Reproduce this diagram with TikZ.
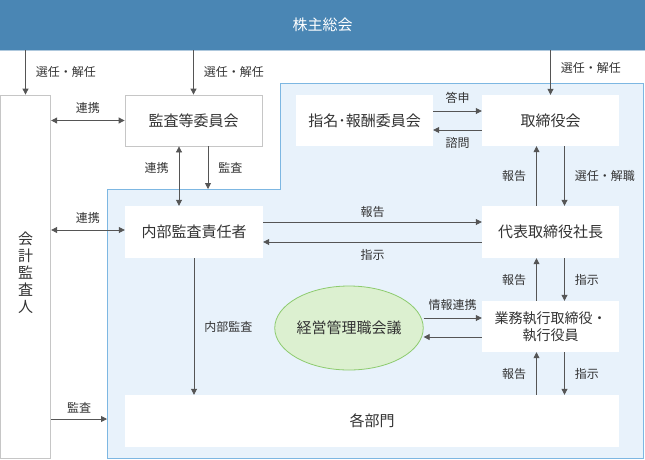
\documentclass[tikz,border=0pt]{standalone}
\usepackage{fontspec}
\setmainfont{Noto Sans CJK JP}
\usetikzlibrary{arrows.meta}
\usetikzlibrary{shapes.geometric}
\definecolor{banner}{HTML}{4A86B4}
\definecolor{zone}{HTML}{E8F2FB}
\definecolor{zoneline}{HTML}{7DB7E2}
\definecolor{ink}{HTML}{333333}
\definecolor{wire}{HTML}{555555}
\definecolor{meet}{HTML}{DCF0D0}
\definecolor{meetline}{HTML}{8DCB6E}

\tikzset{
  box/.style={fill=white, text=ink, inner sep=0pt, font=\fontsize{15}{17}\selectfont},
  arr/.style={draw=wire, line width=0.8pt, -{Triangle[length=6pt,width=6pt]}},
  darr/.style={arr, {Triangle[length=6pt,width=6pt]}-{Triangle[length=6pt,width=6pt]}},
  lbl/.style={text=ink, inner sep=2pt, font=\fontsize{12}{14}\selectfont},
}

\begin{document}
\begin{tikzpicture}[x=1pt,y=-1pt]
  \useasboundingbox (0,0) rectangle (645,459);
  % light blue executive area
  \fill[zone, draw=zoneline, line width=0.8pt] (107,189) -- (280,189) -- (280,83)
    -- (643,83) -- (643,458) -- (107,458) -- cycle;
  \coordinate (zoneW) at (107,419);
  \coordinate (zoneN) at (208,189);

  \node[fill=banner, text=white, inner sep=0pt, minimum width=645pt, minimum height=50pt,
    font=\fontsize{15}{17}\selectfont] (kabu) at (322.5,25) {株主総会};
  \draw[banner!45!white, line width=1pt] (kabu.south west) -- (kabu.south east);

  \node[box, draw=gray!45, line width=0.8pt, minimum width=50.5pt, minimum height=363pt,
    align=center] (kaik) at (25.5,276.5) {会\\計\\監\\査\\人\\[-9pt]};
  \node[box, draw=gray!45, line width=0.8pt, minimum width=137pt, minimum height=51pt]
    (kans) at (193.5,120.5) {監査等委員会};
  \node[box, minimum width=137pt, minimum height=51pt] (shim) at (364.5,120.5) {指名･報酬委員会};
  \node[box, minimum width=137pt, minimum height=51pt] (tori) at (550.5,120.5) {取締役会};
  \node[box, minimum width=138pt, minimum height=52pt] (naib) at (194,232) {内部監査責任者};
  \node[box, minimum width=137pt, minimum height=52pt] (daih) at (550.5,232) {代表取締役社長};
  \node[box, minimum width=137pt, minimum height=51pt, align=center,
    font=\fontsize{14}{17}\selectfont] (gyom) at (550.5,326.5) {業務執行取締役・\\執行役員};
  \node[ellipse, fill=meet, draw=meetline, line width=0.8pt, inner sep=0pt, text=ink,
    minimum width=130pt, minimum height=84pt, font=\fontsize{15}{17}\selectfont]
    (keie) at (349,328) {経営管理職会議};
  \node[box, minimum width=494pt, minimum height=52pt] (kaku) at (372,421) {各部門};

  \draw[arr] (kabu.south -| kaik.north) -- (kaik.north) node[lbl, midway, right=8pt] {選任・解任};
  \draw[arr] (kabu.south -| kans.north) -- (kans.north) node[lbl, midway, right=8pt] {選任・解任};
  \draw[arr] (kabu.south -| tori.north) -- (tori.north) node[lbl, pos=0.4, right=8pt] {選任・解任};

  \draw[darr] (kaik.east |- kans.west) -- (kans.west) node[lbl, midway, above=5pt] {連携};
  \draw[darr] ([yshift=2pt]kaik.east |- naib.west) -- ([yshift=2pt]naib.west)
    node[lbl, midway, above=4pt] {連携};
  \draw[arr] (kaik.east |- zoneW) -- (zoneW) node[lbl, midway, above=3pt] {監査};

  \draw[darr] ([xshift=-14.5pt]kans.south) -- ([xshift=-14.5pt]kans.south |- naib.north)
    node[lbl, pos=0.37, left=8pt] {連携};
  \draw[arr] (kans.south -| zoneN) -- (zoneN) node[lbl, midway, right=8pt] {監査};
  \draw[arr] (naib.south) -- (naib.south |- kaku.north) node[lbl, midway, right=8pt] {内部監査};

  \draw[arr] ([yshift=10pt]naib.east) -- ([yshift=10pt]daih.west) node[lbl, midway, above=2pt] {報告};
  \draw[arr] ([yshift=-10pt]daih.west) -- ([yshift=-10pt]naib.east) node[lbl, midway, below=5pt] {指示};

  \draw[arr] ([yshift=9.5pt]shim.east) -- ([yshift=9.5pt]tori.west) node[lbl, midway, above=5pt] {答申};
  \draw[arr] ([yshift=-9.5pt]tori.west) -- ([yshift=-9.5pt]shim.east) node[lbl, midway, below=5pt] {諮問};

  \draw[arr] ([xshift=-14pt]daih.north) -- ([xshift=-14pt]tori.south) node[lbl, midway, left=8pt] {報告};
  \draw[arr] ([xshift=14pt]tori.south) -- ([xshift=14pt]daih.north) node[lbl, midway, right=8pt] {選任・解職};
  \draw[arr] ([xshift=-14pt]gyom.north) -- ([xshift=-14pt]daih.south) node[lbl, midway, left=8pt] {報告};
  \draw[arr] ([xshift=14pt]daih.south) -- ([xshift=14pt]gyom.north) node[lbl, midway, right=8pt] {指示};
  \draw[arr] ([xshift=-14pt]gyom.south |- kaku.north) -- ([xshift=-14pt]gyom.south)
    node[lbl, midway, left=8pt] {報告};
  \draw[arr] ([xshift=14pt]gyom.south) -- ([xshift=14pt]gyom.south |- kaku.north)
    node[lbl, midway, right=8pt] {指示};

  \draw[arr] ([yshift=8.5pt]gyom.west -| keie.east) -- ([yshift=8.5pt]gyom.west)
    node[lbl, midway, above=5pt] {情報連携};
  \draw[arr] ([yshift=-10.5pt]gyom.west) -- ([yshift=-10.5pt]gyom.west -| keie.east);
\end{tikzpicture}
\end{document}
